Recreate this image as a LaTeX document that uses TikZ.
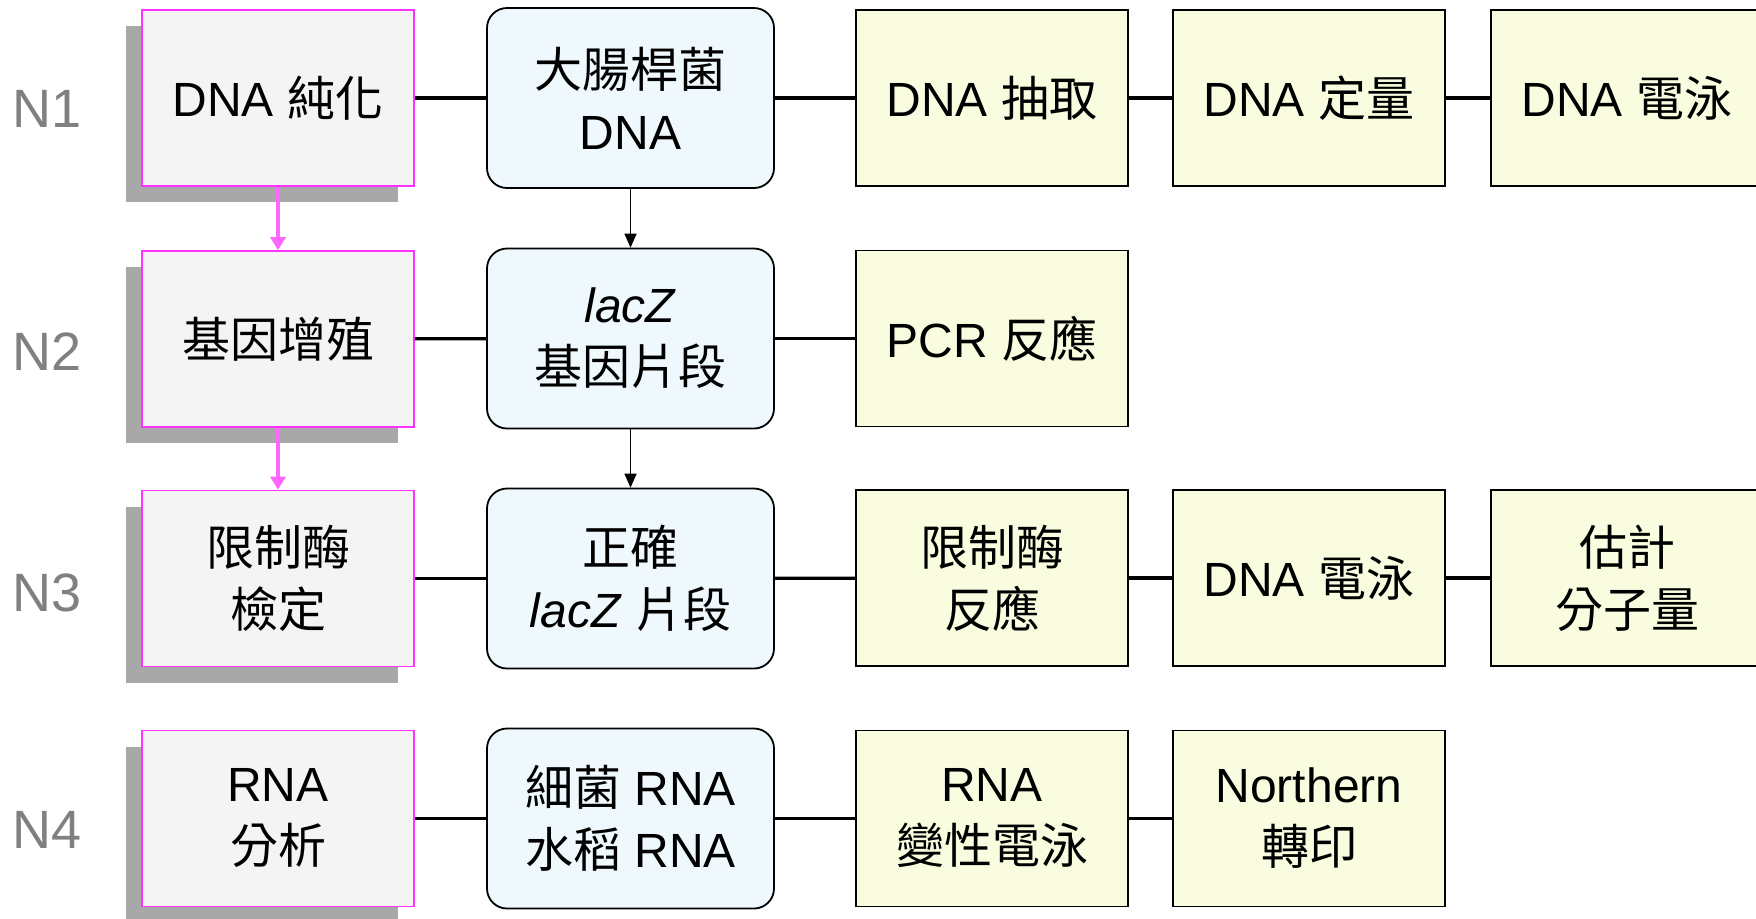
\documentclass[tikz,border=0pt]{standalone}
\usepackage{fontspec}
\setmainfont{Liberation Sans}
\newfontfamily\cjkfont{Noto Sans CJK TC}
\newcommand{\zhtxt}[1]{{\cjkfont #1}}
\usetikzlibrary{shadows,arrows.meta}
\definecolor{pinkline}{HTML}{FF33FF}
\definecolor{pinkarrowc}{HTML}{FF66FF}
\definecolor{pinkfill}{HTML}{F4F4F4}
\definecolor{shadowgray}{HTML}{A8A8A8}
\definecolor{bluefill}{HTML}{EFF9FD}
\definecolor{yellowfill}{HTML}{FAFCE0}
\definecolor{labelgray}{HTML}{808080}
\begin{document}
\begin{tikzpicture}[x=0.5pt,y=-0.5pt,
  boxfont/.style={font=\fontsize{24}{31}\selectfont},
  pinkbox/.style={draw=pinkline, line width=0.9pt, fill=pinkfill,
    minimum width=136pt, minimum height=88pt, inner sep=0pt, align=center, boxfont,
    general shadow={fill=shadowgray, draw=none, shadow xshift=-8pt, shadow yshift=-8pt}},
  bluebox/.style={draw=black, line width=0.9pt, fill=bluefill, rounded corners=10pt,
    minimum width=143.5pt, minimum height=90pt, inner sep=0pt, align=center, boxfont},
  yellowbox/.style={draw=black, line width=0.7pt, fill=yellowfill,
    minimum width=136pt, minimum height=88pt, inner sep=0pt, align=center, boxfont},
  nlabel/.style={text=labelgray, font=\fontsize{27}{30}\selectfont},
  link/.style={line width=1.6pt, black},
  blackarrow/.style={line width=0.75pt, black, -{Triangle[width=6pt,length=7pt]}},
  pinkarrow/.style={line width=2pt, pinkarrowc, -{Triangle[width=7.5pt,length=6.5pt]}}
]
\useasboundingbox (0,0) rectangle (1756,918);
\clip (0,0) rectangle (1756,918);

% row labels
\node[nlabel] (n1) at (47,109) {N1};
\node[nlabel] (n2) at (47,352) {N2};
\node[nlabel] (n3) at (47,593) {N3};
\node[nlabel] (n4) at (47,830) {N4};

% pink column
\node[pinkbox] (p1) at (278,98)  {DNA \zhtxt{純化}};
\node[pinkbox] (p2) at (278,339) {\zhtxt{基因增殖}};
\node[pinkbox] (p3) at (278,578.5) {\zhtxt{限制酶}\\\zhtxt{檢定}};
\node[pinkbox] (p4) at (278,818.5) {RNA\\\zhtxt{分析}};

% blue column
\node[bluebox] (b1) at (630.5,98)  {\zhtxt{大腸桿菌}\\DNA};
\node[bluebox] (b2) at (630.5,338.5) {\textit{lacZ}\\\zhtxt{基因片段}};
\node[bluebox] (b3) at (630.5,578.5) {\zhtxt{正確}\\\textit{lacZ} \zhtxt{片段}};
\node[bluebox] (b4) at (630.5,818.5) {\zhtxt{細菌} RNA\\\zhtxt{水稻} RNA};

% yellow boxes
\node[yellowbox] (y11) at (992,98)  {DNA \zhtxt{抽取}};
\node[yellowbox] (y12) at (1309,98) {DNA \zhtxt{定量}};
\node[yellowbox] (y13) at (1627,98) {DNA \zhtxt{電泳}};
\node[yellowbox] (y21) at (992,338.5) {PCR \zhtxt{反應}};
\node[yellowbox] (y31) at (992,578) {\zhtxt{限制酶}\\\zhtxt{反應}};
\node[yellowbox] (y32) at (1309,578) {DNA \zhtxt{電泳}};
\node[yellowbox] (y33) at (1627,578) {\zhtxt{估計}\\\zhtxt{分子量}};
\node[yellowbox] (y41) at (992,818.5) {RNA\\\zhtxt{變性電泳}};
\node[yellowbox] (y42) at (1309,818.5) {Northern\\\zhtxt{轉印}};

% horizontal links
\draw[link] (p1) -- (b1);
\draw[link] (b1) -- (y11);
\draw[link] (y11) -- (y12);
\draw[link] (y12) -- (y13);
\draw[link] (p2) -- (b2);
\draw[link] (b2) -- (y21);
\draw[link] (p3) -- (b3);
\draw[link] (b3) -- (y31);
\draw[link] (y31) -- (y32);
\draw[link] (y32) -- (y33);
\draw[link] (p4) -- (b4);
\draw[link] (b4) -- (y41);
\draw[link] (y41) -- (y42);

% vertical arrows
\draw[pinkarrow] (p1) -- (p2);
\draw[pinkarrow] (p2) -- (p3);
\draw[blackarrow] (b1) -- (b2);
\draw[blackarrow] (b2) -- (b3);
\end{tikzpicture}
\end{document}
